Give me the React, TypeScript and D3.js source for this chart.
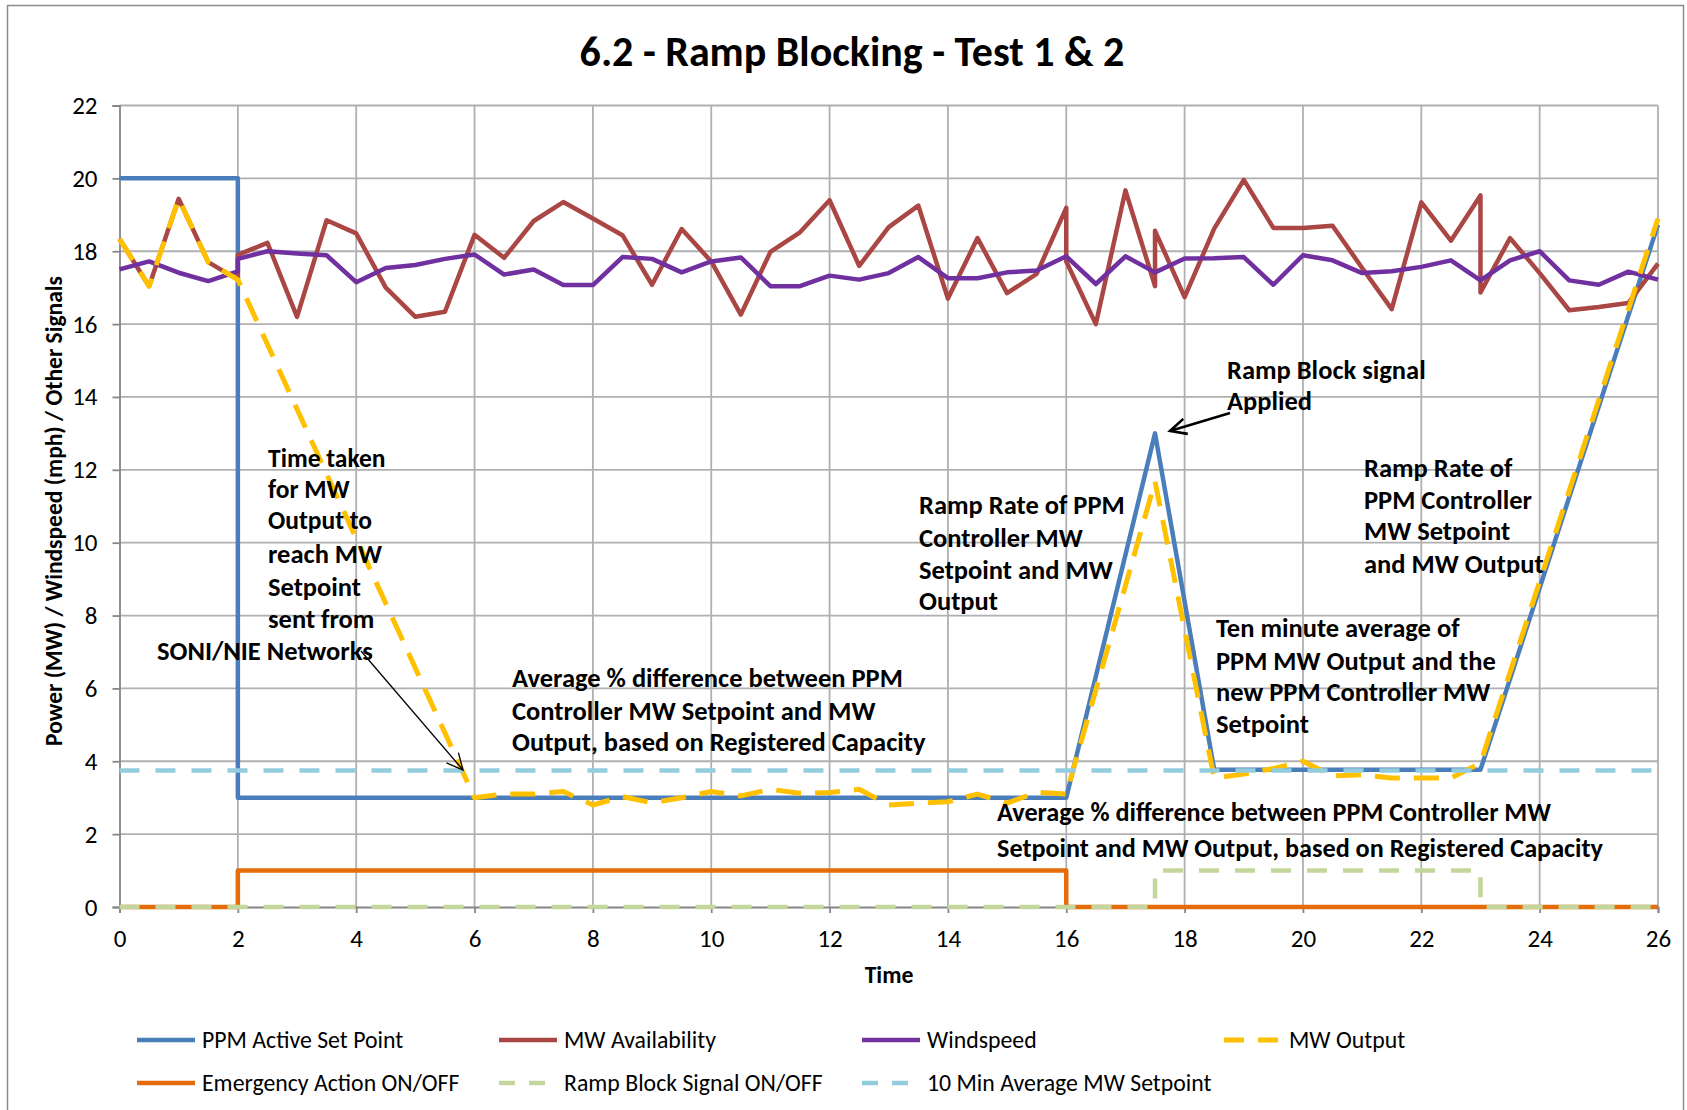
import React, { useEffect, useRef } from "react";
import * as d3 from "d3";

// --- chart values (time in minutes, value in MW / mph / on-off) ---
const xTicks = [0, 2, 4, 6, 8, 10, 12, 14, 16, 18, 20, 22, 24, 26];
const yTicks = [0, 2, 4, 6, 8, 10, 12, 14, 16, 18, 20, 22];

const ppmSetPoint: [number, number][] = [
  [0, 20], [2, 20], [2, 3], [16, 3], [17.5, 13], [18.5, 3.77], [23, 3.77], [26, 18.73],
];

const mwAvailability: [number, number][] = [
  [0, 18.34], [0.5, 17.04], [1, 19.44], [1.5, 17.7], [2, 17.22], [2, 17.9], [2.5, 18.23],
  [3, 16.2], [3.5, 18.85], [4, 18.49], [4.5, 17.0], [5, 16.2], [5.5, 16.34], [6, 18.45],
  [6.5, 17.82], [7, 18.83], [7.5, 19.35], [8, 18.9], [8.5, 18.44], [9, 17.08], [9.5, 18.61],
  [10, 17.72], [10.5, 16.26], [11, 17.98], [11.5, 18.52], [12, 19.4], [12.5, 17.6],
  [13, 18.66], [13.5, 19.25], [14, 16.7], [14.5, 18.36], [15, 16.85], [15.5, 17.38],
  [16, 19.19], [16, 17.72], [16.5, 16.0], [17, 19.67], [17.5, 17.04], [17.5, 18.56],
  [18, 16.74], [18.5, 18.62], [19, 19.96], [19.5, 18.64], [20, 18.64], [20.5, 18.7],
  [21, 17.54], [21.5, 16.41], [22, 19.34], [22.5, 18.29], [23, 19.53], [23, 16.87],
  [23.5, 18.36], [24, 17.4], [24.5, 16.38], [25, 16.47], [25.5, 16.58], [26, 17.66],
];

const windspeed: [number, number][] = [
  [0, 17.5], [0.5, 17.72], [1, 17.41], [1.5, 17.18], [2, 17.45], [2, 17.79], [2.5, 18.0],
  [3, 17.94], [3.5, 17.89], [4, 17.15], [4.5, 17.54], [5, 17.62], [5.5, 17.79], [6, 17.91],
  [6.5, 17.36], [7, 17.5], [7.5, 17.07], [8, 17.07], [8.5, 17.84], [9, 17.79], [9.5, 17.42],
  [10, 17.72], [10.5, 17.83], [11, 17.04], [11.5, 17.04], [12, 17.33], [12.5, 17.22],
  [13, 17.4], [13.5, 17.84], [14, 17.26], [14.5, 17.26], [15, 17.42], [15.5, 17.47],
  [16, 17.86], [16.5, 17.1], [17, 17.86], [17.5, 17.42], [18, 17.8], [18.5, 17.81],
  [19, 17.84], [19.5, 17.08], [20, 17.89], [20.5, 17.75], [21, 17.4], [21.5, 17.45],
  [22, 17.57], [22.5, 17.75], [23, 17.2], [23.5, 17.75], [24, 18.0], [24.5, 17.2],
  [25, 17.08], [25.5, 17.44], [26, 17.22],
];

const mwOutput: [number, number][] = [
  [0, 18.34], [0.5, 17.04], [1, 19.44], [1.5, 17.7], [2, 17.22], [6, 3.0], [6.5, 3.1],
  [7, 3.1], [7.5, 3.17], [8, 2.8], [8.5, 3.03], [9, 2.86], [9.5, 3.0], [10, 3.17],
  [10.5, 3.05], [11, 3.23], [11.5, 3.12], [12, 3.14], [12.5, 3.23], [13, 2.8], [13.5, 2.85],
  [14, 2.89], [14.5, 3.1], [15, 2.85], [15.5, 3.15], [16, 3.1], [17.5, 11.68], [18.5, 3.54],
  [19, 3.65], [19.5, 3.8], [20, 4.0], [20.5, 3.6], [21, 3.63], [21.5, 3.54], [22, 3.54],
  [22.5, 3.54], [23, 3.95], [26, 18.9],
];

const emergencyAction: [number, number][] = [[0, 0], [2, 0], [2, 1], [16, 1], [16, 0], [26, 0]];
const rampBlock: [number, number][] = [[0, 0], [17.5, 0], [17.5, 1], [23, 1], [23, 0], [26, 0]];
const tenMinAverage: [number, number][] = [[0, 3.75], [26, 3.75]];

const series = [
  { name: "PPM Active Set Point", data: ppmSetPoint, color: "#4A7EBB", dash: null, w: 4.5 },
  { name: "MW Availability", data: mwAvailability, color: "#AA4643", dash: null, w: 4.5 },
  { name: "Windspeed", data: windspeed, color: "#7030A0", dash: null, w: 4.5 },
  { name: "MW Output", data: mwOutput, color: "#FFC000", dash: "25,14", w: 5 },
  { name: "Emergency Action ON/OFF", data: emergencyAction, color: "#E46C0A", dash: null, w: 4.5 },
  { name: "Ramp Block Signal ON/OFF", data: rampBlock, color: "#C3D69B", dash: "20,16", w: 4.5 },
  { name: "10 Min Average MW Setpoint", data: tenMinAverage, color: "#93CDDD", dash: "20,16", w: 4.5 },
];

// text boxes: [x, centre y, text, font size]
const notes: [number, number, string, number][] = [
  [268, 458, "Time taken", 25.5],
  [268, 489, "for MW", 25.5],
  [268, 520, "Output to", 25.5],
  [268, 553, "reach MW", 26.5],
  [268, 586, "Setpoint", 26.5],
  [268, 618, "sent from", 26.5],
  [157, 650, "SONI/NIE Networks", 26.5],
  [512, 677, "Average % difference between PPM", 26.5],
  [512, 710, "Controller MW Setpoint and MW", 26.5],
  [512, 741, "Output, based on Registered Capacity", 26.5],
  [919, 504, "Ramp Rate of PPM", 26.5],
  [919, 537, "Controller MW", 26.5],
  [919, 569, "Setpoint and MW", 26.5],
  [919, 600, "Output", 26.5],
  [1227, 369, "Ramp Block signal", 26.5],
  [1227, 400, "Applied", 26.5],
  [1364, 467, "Ramp Rate of", 26.5],
  [1364, 499, "PPM Controller", 26.5],
  [1364, 530, "MW Setpoint", 26.5],
  [1364, 563, "and MW Output", 26.5],
  [1216, 627, "Ten minute average of", 26.5],
  [1216, 660, "PPM MW Output and the", 26.5],
  [1216, 691, "new PPM Controller MW", 26.5],
  [1216, 723, "Setpoint", 26.5],
  [997, 812, "Average % difference between PPM Controller MW", 26.2],
  [997, 848, "Setpoint and MW Output, based on Registered Capacity", 26.2],
];

const FONT = "Carlito, Calibri, Lato, sans-serif";

export default function App() {
  const ref = useRef<SVGSVGElement>(null);

  useEffect(() => {
    const svg = d3.select(ref.current);
    svg.selectAll("*").remove();

    const W = 1687;
    const H = 1110;
    const x = d3.scaleLinear().domain([0, 26]).range([119.5, 1658]);
    const y = d3.scaleLinear().domain([0, 22]).range([907, 105.5]);

    svg.append("rect").attr("width", W).attr("height", H).attr("fill", "#fff");
    svg.append("rect")
      .attr("x", 7.5).attr("y", 5.5).attr("width", 1676).attr("height", 1120)
      .attr("fill", "none").attr("stroke", "#8c8c8c").attr("stroke-width", 1.5);

    // title
    svg.append("text")
      .attr("x", 852).attr("y", 66)
      .attr("text-anchor", "middle")
      .attr("font-family", FONT).attr("font-weight", "bold").attr("font-size", 42)
      .text("6.2 - Ramp Blocking - Test 1 & 2");

    // grid
    const grid = svg.append("g").attr("stroke", "#b0b0b0").attr("stroke-width", 1.8);
    grid.selectAll("line.h").data(yTicks.filter((d) => d > 0)).join("line")
      .attr("x1", x(0)).attr("x2", x(26)).attr("y1", (d) => y(d)).attr("y2", (d) => y(d));
    grid.selectAll("line.v").data(xTicks.filter((d) => d > 0)).join("line")
      .attr("x1", (d) => x(d)).attr("x2", (d) => x(d)).attr("y1", y(0)).attr("y2", y(22));

    // axes
    const xAxis = svg.append("g").attr("transform", `translate(0,${y(0)})`)
      .call(d3.axisBottom(x).tickValues(xTicks).tickSize(6).tickPadding(16).tickFormat(d3.format("d")));
    const yAxis = svg.append("g").attr("transform", `translate(${x(0)},0)`)
      .call(d3.axisLeft(y).tickValues(yTicks).tickSize(7).tickPadding(15).tickFormat(d3.format("d")));
    [xAxis, yAxis].forEach((a) => {
      a.select(".domain").attr("stroke", "#868686").attr("stroke-width", 1.8);
      a.selectAll(".tick line").attr("stroke", "#868686").attr("stroke-width", 1.8);
      a.selectAll(".tick text").attr("font-family", FONT).attr("font-size", 25).attr("fill", "#000");
    });

    svg.append("text")
      .attr("x", 889).attr("y", 983).attr("text-anchor", "middle")
      .attr("font-family", FONT).attr("font-weight", "bold").attr("font-size", 23.7)
      .text("Time");
    svg.append("text")
      .attr("transform", "translate(62,511) rotate(-90)").attr("text-anchor", "middle")
      .attr("font-family", FONT).attr("font-weight", "bold").attr("font-size", 23.5)
      .text("Power (MW) / Windspeed (mph) / Other Signals");

    // series
    const line = d3.line<[number, number]>().x((d) => x(d[0])).y((d) => y(d[1]));
    svg.append("g").selectAll("path").data(series).join("path")
      .attr("d", (s) => line(s.data))
      .attr("fill", "none")
      .attr("stroke", (s) => s.color)
      .attr("stroke-width", (s) => s.w)
      .attr("stroke-dasharray", (s) => s.dash)
      .attr("stroke-linejoin", "round");

    // annotations
    svg.append("g")
      .attr("font-family", FONT).attr("font-weight", "bold")
      .selectAll("text").data(notes).join("text")
      .attr("x", (d) => d[0]).attr("y", (d) => d[1]).attr("dy", "0.36em")
      .attr("font-size", (d) => d[3])
      .text((d) => d[2]);

    // arrows
    const arrow = (x1: number, y1: number, x2: number, y2: number, sw: number, head: number) => {
      const a = Math.atan2(y2 - y1, x2 - x1);
      const g = svg.append("g").attr("stroke", "#000").attr("stroke-width", sw).attr("fill", "none");
      g.append("line").attr("x1", x1).attr("y1", y1).attr("x2", x2).attr("y2", y2);
      const p = (da: number) => [x2 - head * Math.cos(a + da), y2 - head * Math.sin(a + da)];
      const l = p(0.45), r = p(-0.45);
      g.append("path").attr("d", `M${l[0]},${l[1]}L${x2},${y2}L${r[0]},${r[1]}`);
    };
    arrow(361, 651, 463, 770, 1.3, 18);
    arrow(1230, 413, 1170, 431, 2.6, 18);

    // legend
    const lg = svg.append("g").attr("font-family", FONT).attr("font-size", 23.8);
    const cols = [137, 499, 862, 1224];
    const rows = [1040, 1083];
    series.forEach((s, i) => {
      const cx = cols[i % 4];
      const cy = rows[Math.floor(i / 4)];
      lg.append("line")
        .attr("x1", cx).attr("x2", cx + 58).attr("y1", cy).attr("y2", cy)
        .attr("stroke", s.color).attr("stroke-width", s.w)
        .attr("stroke-dasharray", s.dash ? (s.w === 5 ? "20,14" : "16,14") : null);
      lg.append("text").attr("x", cx + 65).attr("y", cy).attr("dy", "0.35em").text(s.name);
    });
  }, []);

  return (
    <svg
      ref={ref}
      width={1687}
      height={1110}
      style={{ position: "absolute", left: 0, top: 0, display: "block" }}
    />
  );
}
